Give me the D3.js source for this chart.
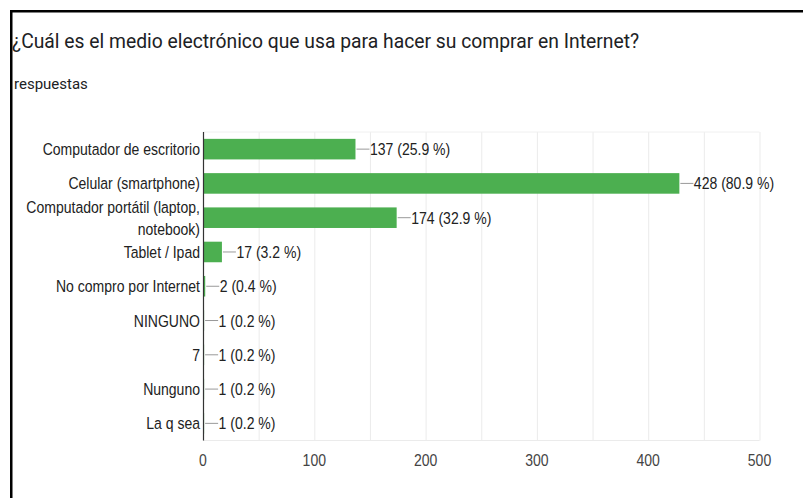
<!DOCTYPE html>
<html lang='es'>
<head>
    <meta charset='utf-8'>
    <title>Medio electrónico</title>
    <script src="https://d3js.org/d3.v7.min.js"></script>
    <style>
        body { margin: 0; background: white; }
        svg text { font-family: Arial, "Liberation Sans", sans-serif; }
    </style>
</head>
<body>
    <div id='chart'></div>
    <script>
        const categories = [
            ["Computador de escritorio"],
            ["Celular (smartphone)"],
            ["Computador portátil (laptop,", "notebook)"],
            ["Tablet / Ipad"],
            ["No compro por Internet"],
            ["NINGUNO"],
            ["7"],
            ["Nunguno"],
            ["La q sea"]
        ]
        const counts = [137, 428, 174, 17, 2, 1, 1, 1, 1]
        const percents = ["25.9", "80.9", "32.9", "3.2", "0.4", "0.2", "0.2", "0.2", "0.2"]
        const xTicks = [0, 100, 200, 300, 400, 500]
        const gridValues = [50, 100, 150, 200, 250, 300, 350, 400, 450, 500]

        const title = "¿Cuál es el medio electrónico que usa para hacer su comprar en Internet?"
        const subtitle = "respuestas"

        let size = {width: 803, height: 498}
        let plot = {left: 203, right: 759.5, top: 132, bottom: 440.5}
        // the chart text looks horizontally squeezed in the screenshot
        const squeeze = 0.85
        const fontSize = "16.5px"

        let svg = d3.select("#chart")
                    .append("svg")
                        .attr("width", size.width)
                        .attr("height", size.height)

        // frame (top and left edges only are visible)
        svg.append("line")
            .attr("x1", 10).attr("x2", size.width)
            .attr("y1", 11.25).attr("y2", 11.25)
            .attr("stroke", "black").attr("stroke-width", 2.5)
        svg.append("line")
            .attr("x1", 11.25).attr("x2", 11.25)
            .attr("y1", 10).attr("y2", size.height)
            .attr("stroke", "black").attr("stroke-width", 2.5)

        svg.append("text")
            .attr("transform", "translate(12,48) scale(0.92,1)")
            .style("font-family", "Roboto, Arial, sans-serif")
            .style("font-size", "21px")
            .attr("fill", "#202124")
            .text(title)

        svg.append("text")
            .attr("transform", "translate(14,89)")
            .style("font-family", "Roboto, Arial, sans-serif")
            .style("font-size", "15px")
            .attr("fill", "#202124")
            .text(subtitle)

        let x = d3.scaleLinear()
                .domain([0, 500])
                .range([plot.left, plot.right])

        let y = d3.scaleBand()
                .domain(d3.range(categories.length))
                .range([plot.top, plot.bottom])
                .paddingInner(0.4)
                .paddingOuter(0.2)

        let cy = i => y(i) + y.bandwidth() / 2

        // gridlines
        svg.append("g")
            .selectAll("line")
            .data(gridValues)
            .join("line")
                .attr("x1", d => x(d) + 0.5).attr("x2", d => x(d) + 0.5)
                .attr("y1", plot.top).attr("y2", plot.bottom)
                .attr("stroke", "#ebebeb")
                .attr("stroke-width", 1)

        svg.append("line")
            .attr("x1", plot.left).attr("x2", plot.right)
            .attr("y1", plot.top).attr("y2", plot.top)
            .attr("stroke", "#f0f0f0")
        svg.append("line")
            .attr("x1", plot.left).attr("x2", plot.right)
            .attr("y1", plot.bottom).attr("y2", plot.bottom)
            .attr("stroke", "#ebebeb")

        // bars
        svg.append("g")
            .selectAll("rect")
            .data(counts)
            .join("rect")
                .attr("x", x(0))
                .attr("y", (d, i) => y(i))
                .attr("width", d => Math.max(1, x(d) - x(0)))
                .attr("height", y.bandwidth())
                .attr("fill", "#4caf50")

        // y axis line
        svg.append("line")
            .attr("x1", plot.left + 0.5).attr("x2", plot.left + 0.5)
            .attr("y1", plot.top).attr("y2", plot.bottom)
            .attr("stroke", "#333")
            .attr("stroke-width", 1.2)

        // category labels
        let catLabels = svg.append("g")
            .selectAll("text")
            .data(categories)
            .join("text")
                .attr("transform", (d, i) => `translate(${plot.left - 3},${cy(i)}) scale(${squeeze},1)`)
                .attr("text-anchor", "end")
                .style("font-size", fontSize)
                .attr("fill", "#222")

        catLabels.each(function(d) {
            let t = d3.select(this)
            let lineH = 22
            let offset = -(d.length - 1) * lineH / 2
            d.forEach((line, j) => {
                t.append("tspan")
                    .attr("x", 0)
                    .attr("dy", j === 0 ? offset + 6 : lineH)
                    .text(line)
            })
        })

        // leader lines + value labels
        let valueGroup = svg.append("g")
        valueGroup.selectAll("line")
            .data(counts)
            .join("line")
                .attr("x1", d => x(d) + 1)
                .attr("x2", d => x(d) + 14)
                .attr("y1", (d, i) => cy(i))
                .attr("y2", (d, i) => cy(i))
                .attr("stroke", "#999")
                .attr("stroke-width", 1)

        valueGroup.selectAll("text")
            .data(counts)
            .join("text")
                .attr("transform", (d, i) => `translate(${x(d) + 14.5},${cy(i) + 6}) scale(${squeeze},1)`)
                .style("font-size", fontSize)
                .attr("fill", "#222")
                .text((d, i) => `${d} (${percents[i]} %)`)

        // x axis tick labels
        svg.append("g")
            .selectAll("text")
            .data(xTicks)
            .join("text")
                .attr("transform", d => `translate(${x(d)},466) scale(${squeeze},1)`)
                .attr("text-anchor", "middle")
                .style("font-size", fontSize)
                .attr("fill", "#444")
                .text(d => d)
    </script>
</body>
</html>
